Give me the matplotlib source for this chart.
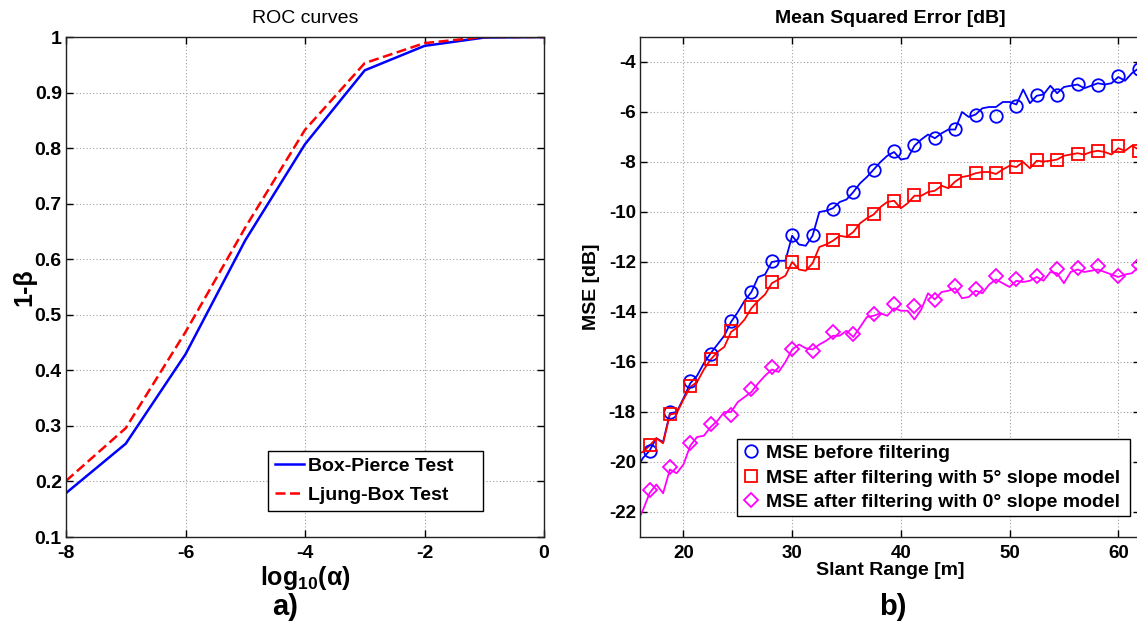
import matplotlib.pyplot as plt
import numpy as np

plt.rcParams['font.family'] = ['Liberation Sans', 'DejaVu Sans']
plt.rcParams['mathtext.fontset'] = 'custom'
plt.rcParams['mathtext.rm'] = 'Liberation Sans:bold'
plt.rcParams['mathtext.bf'] = 'Liberation Sans:bold'
plt.rcParams['axes.unicode_minus'] = False

# ---- ROC curves (panel a) ----
log_alpha = [-8, -7, -6, -5, -4, -3, -2, -1, 0]
power_box_pierce = [0.179, 0.268, 0.429, 0.634, 0.807, 0.940, 0.984, 0.999, 1.0]
power_ljung_box = [0.201, 0.296, 0.469, 0.657, 0.833, 0.953, 0.989, 1.0, 1.0]

# ---- MSE vs slant range (panel b) ----
# line samples every 0.625 m, markers on every third sample
slant_range = 15.625 + 0.625 * np.arange(76)

mse_before = [
    -20.35, -19.85, -19.55, -19.05, -19.20, -18.05, -18.00, -17.45, -16.85, -16.55,
    -16.05, -15.65, -15.30, -14.95, -14.40, -14.00, -13.55, -13.20, -12.60, -12.50,
    -12.00, -11.95, -11.95, -10.95, -11.30, -11.35, -10.95, -10.00, -9.95, -9.85,
    -9.60, -9.50, -9.20, -8.85, -8.60, -8.30, -8.00, -7.75, -7.60, -7.90,
    -7.85, -7.35, -7.10, -6.90, -7.05, -6.85, -6.70, -6.70, -6.00, -6.20,
    -6.10, -5.85, -5.80, -5.80, -5.60, -5.60, -5.70, -5.10, -5.65, -5.35,
    -5.30, -4.95, -5.25, -5.00, -4.95, -4.90, -5.05, -4.95, -4.85, -4.90,
    -4.85, -4.60, -4.75, -4.45, -4.25, -4.10,
]
mse_slope5 = [
    -19.70, -19.60, -19.35, -19.05, -19.25, -18.10, -18.05, -17.50, -17.00, -16.80,
    -16.30, -15.90, -15.60, -15.40, -14.80, -14.60, -14.30, -13.85, -13.55, -13.30,
    -12.85, -12.70, -12.55, -12.00, -12.30, -12.35, -12.05, -11.40, -11.30, -11.15,
    -10.95, -11.00, -10.80, -10.45, -10.25, -10.10, -9.80, -9.60, -9.55, -9.85,
    -9.65, -9.35, -9.35, -9.20, -9.15, -8.95, -9.05, -8.78, -8.60, -8.55,
    -8.45, -8.40, -8.40, -8.48, -8.30, -8.15, -8.20, -8.00, -8.25, -7.95,
    -7.98, -7.95, -7.90, -7.75, -7.70, -7.65, -7.70, -7.60, -7.55, -7.60,
    -7.70, -7.45, -7.55, -7.35, -7.50, -7.50,
]
mse_slope0 = [
    -22.50, -21.95, -21.25, -20.90, -21.25, -20.30, -20.45, -20.10, -19.35, -19.00,
    -18.95, -18.60, -18.35, -18.00, -18.00, -17.60, -17.40, -17.20, -16.85, -16.55,
    -16.30, -16.40, -16.00, -15.50, -15.30, -15.45, -15.50, -15.30, -15.15, -14.95,
    -14.95, -14.75, -15.00, -14.60, -14.20, -14.15, -14.05, -14.15, -13.85, -13.95,
    -13.95, -14.30, -13.90, -13.25, -13.50, -13.20, -13.15, -13.05, -13.45, -13.40,
    -13.15, -13.25, -12.90, -12.70, -12.85, -13.00, -12.75, -12.80, -12.75, -12.60,
    -12.75, -12.40, -12.45, -12.85, -12.40, -12.30, -12.40, -12.35, -12.30, -12.40,
    -12.50, -12.60, -12.50, -12.45, -12.20, -12.10,
]

marks_before = [
    -19.55, -18.00, -16.78, -15.68, -14.38, -13.20, -11.95, -10.93, -10.92, -9.87,
    -9.20, -8.32, -7.57, -7.32, -7.03, -6.69, -6.14, -6.16, -5.75, -5.34,
    -5.32, -4.88, -4.94, -4.58, -4.27,
]
marks_slope5 = [
    -19.33, -18.10, -16.98, -15.90, -14.75, -13.81, -12.82, -11.99, -12.03, -11.12,
    -10.77, -10.08, -9.55, -9.34, -9.10, -8.75, -8.43, -8.46, -8.20, -7.93,
    -7.93, -7.70, -7.55, -7.36, -7.55,
]
marks_slope0 = [
    -21.12, -20.20, -19.25, -18.50, -18.12, -17.10, -16.20, -15.50, -15.55, -14.80,
    -14.90, -14.09, -13.70, -13.75, -13.51, -12.97, -13.10, -12.58, -12.68, -12.58,
    -12.28, -12.24, -12.17, -12.58, -12.14,
]
marks_range = slant_range[2::3]

grid_kw = dict(color='#a0a0a0', linestyle=(0, (1, 2)), linewidth=0.8)


def style_axes(ax, size):
    ax.tick_params(direction='in', top=True, right=True, length=5, width=1,
                   labelsize=size)
    ax.tick_params(axis='x', pad=6)
    ax.tick_params(axis='y', pad=3)
    for lab in ax.get_xticklabels() + ax.get_yticklabels():
        lab.set_fontweight('bold')
    for sp in ax.spines.values():
        sp.set_linewidth(1.0)
        sp.set_color('#222222')
    ax.grid(True, **grid_kw)


fig = plt.figure(figsize=(11.37, 6.28), dpi=100)

# panel a
ax1 = fig.add_axes([66 / 1137, 91 / 628, 478 / 1137, 500 / 628])
ax1.plot(log_alpha, power_box_pierce, color='#0000ff', lw=1.8, label='Box-Pierce Test')
ax1.plot(log_alpha, power_ljung_box, color='#ff0000', lw=1.8, ls=(0, (4, 1.8)),
         label='Ljung-Box Test')
ax1.set_xlim(-8, 0)
ax1.set_ylim(0.1, 1.0)
ax1.set_xticks([-8, -6, -4, -2, 0])
ax1.set_xticklabels(['-8', '-6', '-4', '-2', '0'])
ax1.set_yticks(np.arange(0.1, 1.01, 0.1))
ax1.set_yticklabels(['0.1', '0.2', '0.3', '0.4', '0.5', '0.6', '0.7', '0.8', '0.9', '1'])
style_axes(ax1, 14)
ax1.set_title('ROC curves', fontsize=14, pad=10)
ax1.set_xlabel('log$_{10}$(α)', fontsize=18, fontweight='bold', labelpad=1)
ax1.set_ylabel('1-β', fontsize=18, fontweight='bold', labelpad=-1)
leg1 = ax1.legend(loc='lower left', bbox_to_anchor=(0.4226, 0.052, 0.4498, 0.124),
                  mode='expand', borderaxespad=0,
                  fancybox=False, edgecolor='black', framealpha=1,
                  prop=dict(size=14, weight='bold'), handlelength=1.5,
                  handletextpad=0.2, labelspacing=0.6, borderpad=0.35)
leg1.get_frame().set_linewidth(1.0)

# panel b
ax2 = fig.add_axes([640 / 1137, 91 / 628, 500 / 1137, 500 / 628])
ax2.plot(slant_range, mse_before, color='#0000ff', lw=1.3)
ax2.plot(slant_range, mse_slope5, color='#ff0000', lw=1.3)
ax2.plot(slant_range, mse_slope0, color='#ff00ff', lw=1.3)
ax2.plot(marks_range, marks_before, 'o', ms=9, mfc='none', mec='#0000ff', mew=1.3,
         label='MSE before filtering')
ax2.plot(marks_range, marks_slope5, 's', ms=8, mfc='none', mec='#ff0000', mew=1.3,
         label='MSE after filtering with 5° slope model')
ax2.plot(marks_range, marks_slope0, 'D', ms=7, mfc='none', mec='#ff00ff', mew=1.3,
         label='MSE after filtering with 0° slope model')
ax2.set_xlim(16, 62)
ax2.set_ylim(-23, -3)
ax2.set_xticks([20, 30, 40, 50, 60])
ax2.set_yticks(np.arange(-22, -3, 2))
style_axes(ax2, 13.5)
ax2.set_title('Mean Squared Error [dB]', fontsize=14, fontweight='bold', pad=10)
ax2.set_xlabel('Slant Range [m]', fontsize=14, fontweight='bold', labelpad=0)
ax2.set_ylabel('MSE [dB]', fontsize=14, fontweight='bold', labelpad=6)
leg2 = ax2.legend(loc='lower left', bbox_to_anchor=(0.194, 0.042, 0.786, 0.152),
                  mode='expand', borderaxespad=0,
                  fancybox=False, edgecolor='black', framealpha=1,
                  prop=dict(size=14, weight='bold'), numpoints=1, handlelength=0.9,
                  handletextpad=0.35, labelspacing=0.36, borderpad=0.25)
leg2.get_frame().set_linewidth(1.0)

fig.text(285 / 1137, 1 - 607 / 628, 'a)', fontsize=21, fontweight='bold',
         ha='center', va='center')
fig.text(893 / 1137, 1 - 607 / 628, 'b)', fontsize=21, fontweight='bold',
         ha='center', va='center')

fig.savefig('out.png', dpi=100)
